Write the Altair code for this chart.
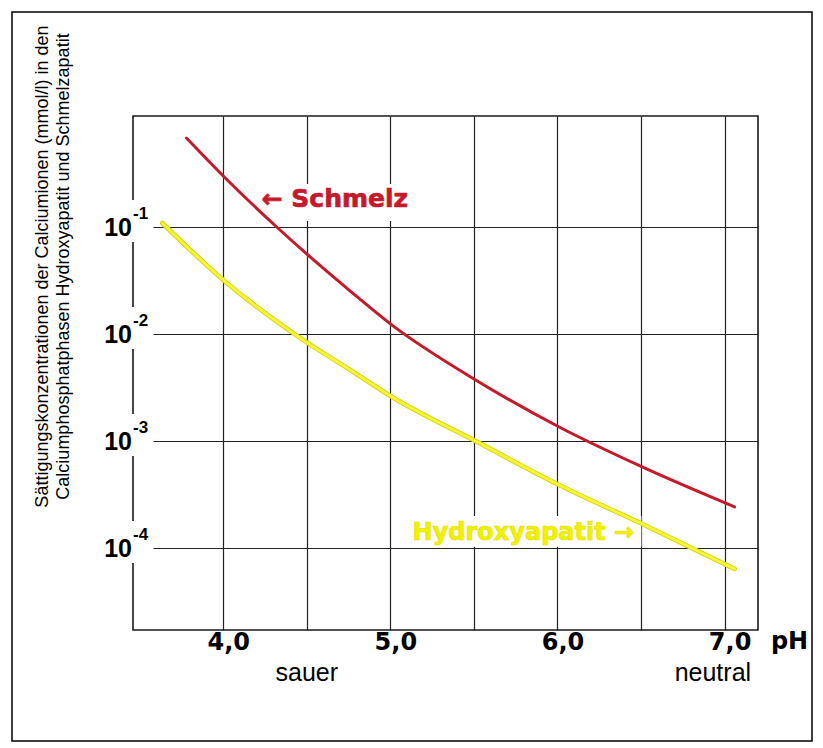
import altair as alt
import pandas as pd

# ---- data ----
ph_schmelz = [3.78, 4.00, 4.32, 4.52, 4.76, 5.01, 5.52, 6.01, 6.52, 7.06]
ca_schmelz = [0.679, 0.300, 0.100, 0.0525, 0.0252, 0.0121, 0.00364, 0.00135, 0.000560, 0.000242]
ph_hap = [3.635, 4.00, 4.46, 4.76, 5.01, 5.52, 6.01, 6.52, 7.06]
ca_hap = [0.109, 0.0320, 0.00918, 0.00461, 0.00258, 0.000980, 0.000388, 0.000164, 0.0000637]

x_grid = [4.0, 4.5, 5.0, 5.5, 6.0, 6.5, 7.0]
y_ticks = [1e-1, 1e-2, 1e-3, 1e-4]
y_exponents = ["-1", "-2", "-3", "-4"]

ph_notes = ["sauer", "neutral"]
ph_note_pos = [4.5, 6.93]

series_labels = ["\u2190 Schmelz", "Hydroxyapatit \u2192"]
label_ph = [4.668, 5.796]
label_ca = [0.154, 0.000119]

y_title = ["S\u00e4ttigungskonzentrationen der Calciumionen (mmol/l) in den",
           "Calciumphosphatphasen Hydroxyapatit und Schmelzapatit"]

RED = "#c41a2b"
YEL = "#f4f43a"
YEL_EDGE = "#d2d200"

# ---- tables ----
schmelz_df = pd.DataFrame({"ph": ph_schmelz, "ca": ca_schmelz})
hap_df = pd.DataFrame({"ph": ph_hap, "ca": ca_hap})
ticks_df = pd.DataFrame({"ca": y_ticks, "exp": y_exponents, "base": ["10"] * len(y_ticks)})
notes_df = pd.DataFrame({"ph": ph_note_pos, "txt": ph_notes})
lab_df = pd.DataFrame({"ph": label_ph, "ca": label_ca, "txt": series_labels})

x_axis = alt.Axis(
    values=x_grid, grid=True, ticks=False, domain=False,
    labelExpr="datum.value % 1 == 0 ? replace(format(datum.value, '.1f'), '.', ',') : ''",
    labelFont="DejaVu Sans", labelFontWeight="bold", labelFontSize=24, labelColor="black",
    labelPadding=12, labelBaseline="middle", labelOffset=5, labelOverlap=False, labelFlush=False,
    title="pH", titleX=656, titleY=11, titleBaseline="middle", titleAlign="center",
    titleFont="DejaVu Sans", titleFontWeight="bold", titleFontSize=24, titleColor="black",
)
y_axis = alt.Axis(
    values=y_ticks, grid=True, ticks=False, domain=False, labels=False,
    title=y_title, titleAngle=270, titleX=-91, titleY=150,
    titleAlign="center", titleBaseline="middle", titleLineHeight=21,
    titleFont="Liberation Sans", titleFontWeight="normal", titleFontSize=18, titleColor="black",
)

x_scale = alt.Scale(domain=[3.46, 7.2], nice=False, zero=False)
y_scale = alt.Scale(type="log", domain=[1.71e-5, 1.09], nice=False)

X = alt.X("ph:Q", scale=x_scale, axis=x_axis)
Y = alt.Y("ca:Q", scale=y_scale, axis=y_axis)

one = alt.Data(values=[{"f": 1}])

# plot-area border (drawn as a mark so the label gaps can interrupt it)
border = alt.Chart(one).mark_rect(
    fillOpacity=0, stroke="#1a1a1a", strokeWidth=1.6
).encode(x=alt.value(0), x2=alt.value(625), y=alt.value(0), y2=alt.value(514))

# white gaps behind the y labels (interrupting the left axis line)
gaps = alt.Chart(ticks_df).mark_point(
    shape="M-1,-0.75H1V0.75H-1Z", size=3136, filled=True, color="white",
    opacity=1, strokeWidth=0, yOffset=-6
).encode(x=alt.value(-7.5), y=Y)

# white boxes behind the curve labels
box_s = alt.Chart(lab_df.iloc[[0]]).mark_point(
    shape="M-1,-0.243H1V0.243H-1Z", size=152 * 152, filled=True, color="white",
    opacity=1, strokeWidth=0, yOffset=-4.5
).encode(x=X, y=Y)
box_h = alt.Chart(lab_df.iloc[[1]]).mark_point(
    shape="M-1,-0.131H1V0.131H-1Z", size=236 * 236, filled=True, color="white",
    opacity=1, strokeWidth=0, yOffset=-8.5
).encode(x=X, y=Y)

red_line = alt.Chart(schmelz_df).mark_line(
    color=RED, strokeWidth=3, interpolate="monotone", strokeCap="round"
).encode(x=X, y=Y)
yel_edge = alt.Chart(hap_df).mark_line(
    color=YEL_EDGE, strokeWidth=4.6, interpolate="monotone", strokeCap="round"
).encode(x=X, y=Y)
yel_line = alt.Chart(hap_df).mark_line(
    color=YEL, strokeWidth=3, interpolate="monotone", strokeCap="round"
).encode(x=X, y=Y)

lab_s = alt.Chart(lab_df.iloc[[0]]).mark_text(
    font="DejaVu Sans", fontWeight="bold", fontSize=25, color=RED,
    stroke=RED, strokeWidth=0.7, align="center", baseline="alphabetic"
).encode(x=X, y=Y, text="txt:N")
lab_h = alt.Chart(lab_df.iloc[[1]]).mark_text(
    font="DejaVu Sans", fontWeight="bold", fontSize=24, color="#f2f200",
    stroke="#e2e200", strokeWidth=0.7, align="center", baseline="alphabetic"
).encode(x=X, y=Y, text="txt:N")

base_txt = alt.Chart(ticks_df).mark_text(
    font="Liberation Sans", fontWeight="bold", fontSize=25, color="black",
    align="right", baseline="alphabetic", dx=-1, dy=9
).encode(x=alt.value(0), y=Y, text="base:N")
exp_txt = alt.Chart(ticks_df).mark_text(
    font="Liberation Sans", fontWeight="bold", fontSize=17, color="black",
    align="left", baseline="alphabetic", dx=0, dy=-8
).encode(x=alt.value(0), y=Y, text="exp:N")

notes = alt.Chart(notes_df).mark_text(
    font="Liberation Sans", fontSize=25, color="black", align="center", baseline="middle"
).encode(x=X, y=alt.value(557), text="txt:N")

frame = alt.Chart(one).mark_rect(
    fillOpacity=0, stroke="black", strokeWidth=1.5
).encode(x=alt.value(-121), x2=alt.value(679), y=alt.value(-104), y2=alt.value(625))

chart = alt.layer(
    border, gaps, box_s, box_h, red_line, yel_edge, yel_line,
    lab_s, lab_h, base_txt, exp_txt, notes, frame
).properties(
    width=625, height=514,
    padding={"left": 125, "top": 108, "right": 57, "bottom": 112},
    autosize=alt.AutoSizeParams(type="none"),
    background="white",
).configure_view(
    strokeWidth=0
).configure_axis(
    gridColor="#222222", gridWidth=1.2, gridOpacity=1
)

chart.save("out.html", embed_options={"renderer": "svg", "actions": False})
